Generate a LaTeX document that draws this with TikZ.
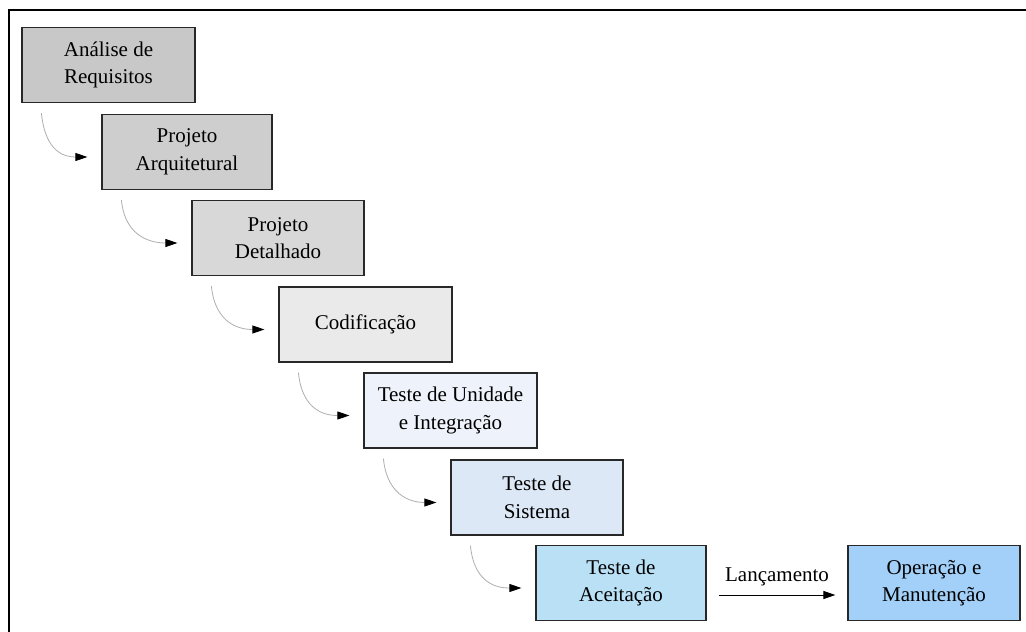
\documentclass[tikz,border=0pt]{standalone}
\usepackage{fontspec}
\setmainfont{Liberation Serif}
\newfontfamily\phasefont{Liberation Serif}
\usetikzlibrary{arrows.meta}
\definecolor{gA}{RGB}{200,200,200}
\definecolor{gB}{RGB}{206,206,206}
\definecolor{gC}{RGB}{216,216,216}
\definecolor{gD}{RGB}{234,234,234}
\definecolor{bA}{RGB}{238,242,250}
\definecolor{bB}{RGB}{220,232,246}
\definecolor{bC}{RGB}{186,224,246}
\definecolor{bD}{RGB}{162,208,248}
\definecolor{edge}{RGB}{40,40,40}
\definecolor{flow}{RGB}{175,175,175}
\begin{document}
\begin{tikzpicture}[x=1pt,y=-1pt,
  txt/.style={font=\phasefont\fontsize{21}{27.5}\selectfont},
  phase/.style={draw=edge,line width=1.2pt,minimum width=#1,minimum height=75pt,
    inner sep=0pt,align=center,txt},
  phase/.default=172pt,
  fall/.style={draw=flow,line width=0.8pt,-{Triangle[length=12pt,width=8pt,fill=black,color=black]}},
  release/.style={draw=black,line width=1pt,-{Triangle[length=12pt,width=8pt]}}]
\useasboundingbox (0,0) rectangle (1026,632);
\fill[white] (0,0) rectangle (1026,632);
% frame
\draw[line width=2pt] (9,632) -- (9,10) -- (1026,10);
% phases
\node[phase=173pt,fill=gA] (req) at (108.5,65) {Análise de\\Requisitos};
\node[phase=170pt,fill=gB] (arq) at (187,152) {Projeto\\Arquitetural};
\node[phase=172pt,fill=gC] (det) at (278,238) {Projeto\\Detalhado};
\node[phase=173pt,fill=gD] (cod) at (365.5,324.5) {Codificação};
\node[phase=173pt,fill=bA] (uni) at (450.5,410.5) {Teste de Unidade\\e Integração};
\node[phase=172pt,fill=bB] (sis) at (537,497.5) {Teste de\\Sistema};
\node[phase=170pt,fill=bC] (ace) at (621,583) {Teste de\\Aceitação};
\node[phase=172pt,fill=bD] (ope) at (934,583) {Operação e\\Manutenção};
% cascade arrows
\foreach \a/\b in {req/arq,arq/det,det/cod,cod/uni,uni/sis,sis/ace}{
  \draw[fall] ([xshift=20pt,yshift=-10pt]\a.south west)
    .. controls +(4,40) and +(-22,0) .. ([xshift=-14pt,yshift=-5pt]\b.west);
}
% release
\draw[release] ([xshift=12pt,yshift=-12pt]ace.east) -- node[above=5pt,txt]{Lançamento} ([xshift=-12pt,yshift=-12pt]ope.west);
\end{tikzpicture}
\end{document}
